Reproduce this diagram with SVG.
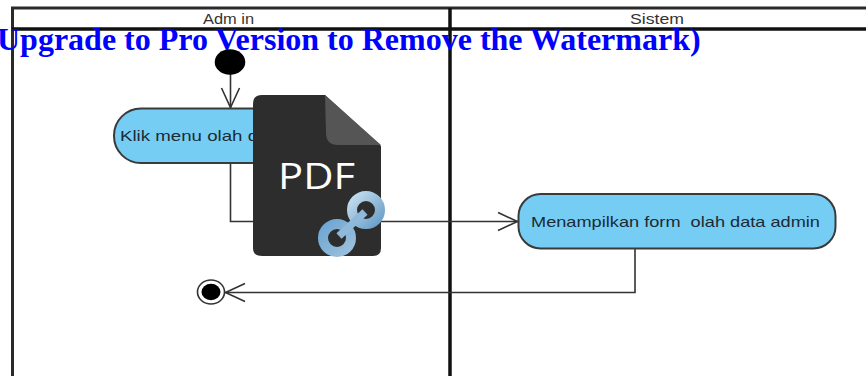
<svg xmlns="http://www.w3.org/2000/svg" width="866" height="376" viewBox="0 0 866 376">
<style>
.lane{fill:none;stroke:#2a2a2a;stroke-width:3}
.div{fill:none;stroke:#111;stroke-width:3.5}
.hdr{font:15px "Liberation Sans",Arial,sans-serif;fill:#333}
.act{fill:#76cdf3;stroke:#3a3a3a;stroke-width:2}
.lbl{font:15px "Liberation Sans",Arial,sans-serif;fill:#1c2a33;white-space:pre}
.edge{fill:none;stroke:#333;stroke-width:1.6}
.wm{font:bold 32px "Liberation Serif","Times New Roman",serif}
</style>
<defs>
<marker id="open" markerUnits="userSpaceOnUse" markerWidth="30" markerHeight="30" refX="24" refY="12" orient="auto"><path d="M4 3L23.500 12L4 21" fill="none" stroke="#333" stroke-width="1.6"/></marker>
<linearGradient id="ringA" x1="0" y1="0" x2="1" y2="1"><stop offset="0" stop-color="#c4dcee"/><stop offset="1" stop-color="#6a9fc8"/></linearGradient>
<linearGradient id="ringB" x1="0" y1="0" x2="1" y2="1"><stop offset="0" stop-color="#6ea6d2"/><stop offset="1" stop-color="#9cc0dc"/></linearGradient>
</defs>
<rect width="866" height="376" fill="#fff"/>
<g id="swimlanes">
<path class="lane" d="M12.500 376V8H866"/>
<path class="div" d="M12 29H866M450 8V376"/>
<text class="hdr" x="203" y="23.500" textLength="51" lengthAdjust="spacingAndGlyphs">Adm in</text>
<text class="hdr" x="630" y="23.500" textLength="54" lengthAdjust="spacingAndGlyphs">Sistem</text>
</g>
<g id="connectors">
<path class="edge" marker-end="url(#open)" d="M230.500 70V108"/>
<path class="edge" marker-end="url(#open)" d="M230.500 163V221.500H518"/>
<path class="edge" marker-end="url(#open)" d="M635 248V292.500H225"/>
</g>
<g id="start"><ellipse cx="230" cy="62" rx="15.300" ry="12.800" fill="#000"/></g>
<g id="klik-menu">
<rect class="act" x="114" y="108.500" width="232" height="54.500" rx="27"/>
<text class="lbl" x="120" y="141" textLength="220" lengthAdjust="spacingAndGlyphs">Klik menu olah data admin</text>
</g>
<g id="menampilkan-form">
<rect class="act" x="518.500" y="194" width="317" height="54.500" rx="22"/>
<text class="lbl" x="531" y="226.500" textLength="289" lengthAdjust="spacingAndGlyphs">Menampilkan form  olah data admin</text>
</g>
<g id="end">
<ellipse cx="211" cy="292" rx="13.500" ry="12" fill="#fff" stroke="#333" stroke-width="1.6"/>
<ellipse cx="211" cy="292" rx="9.500" ry="8.300" fill="#000"/>
</g>
<g id="pdf-icon">
<path d="M262 95H325L381 146V248Q381 256 373 256H262Q253 256 253 248V104Q253 95 262 95Z" fill="#2d2d2d"/>
<path d="M325 95L381 145H338Q326 145 326 133Z" fill="#555"/>
<text x="278" y="189" font-family="'Open Sans','Noto Sans',sans-serif" font-size="37" fill="#fff" textLength="77" lengthAdjust="spacingAndGlyphs">PDF</text>
<circle cx="366" cy="210" r="14" fill="none" stroke="url(#ringA)" stroke-width="10"/>
<circle cx="337" cy="238" r="14" fill="none" stroke="url(#ringB)" stroke-width="10"/>
<path d="M339 236L365 212" stroke="#8fb9da" stroke-width="7.500" fill="none"/>
</g>
<g id="watermark">
<text class="wm" x="-3" y="49.500" fill="#0000ff">Upgrade to Pro Version to Remove the Watermark)</text>
</g>
</svg>
